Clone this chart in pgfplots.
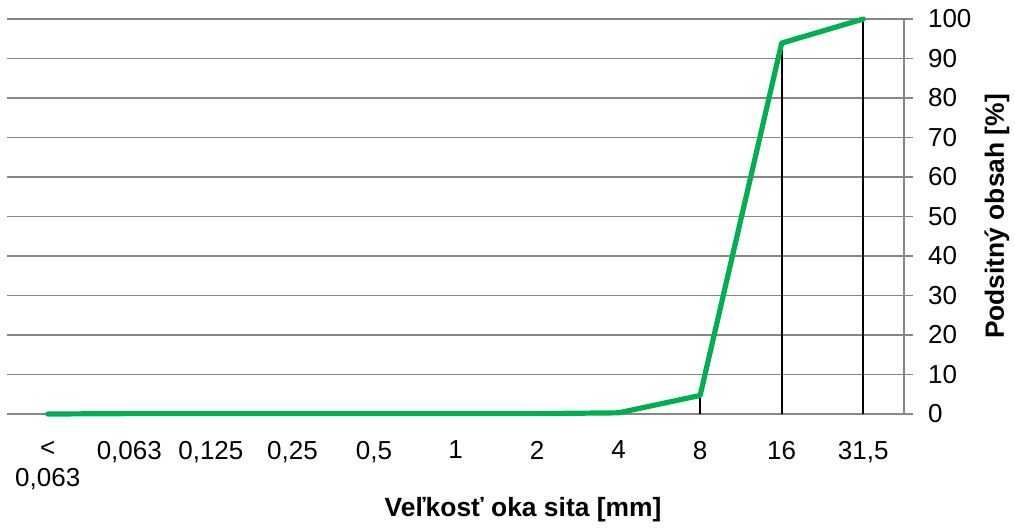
\documentclass[border=0pt]{standalone}
\usepackage{pgfplots}
\pgfplotsset{compat=1.18}
\usepackage{fontspec}
\setmainfont{Liberation Sans}
\definecolor{exgreen}{RGB}{0,176,80}
\definecolor{gridgray}{RGB}{134,134,134}
\begin{document}
\begin{tikzpicture}
\useasboundingbox (-3.5pt,-56.5pt) rectangle (504pt,207pt);
\begin{axis}[
  at={(0pt,0pt)}, anchor=south west,
  scale only axis, width=448.5pt, height=197.5pt,
  xmin=-0.5, xmax=10.5, ymin=0, ymax=100,
  axis y line*=right, axis x line*=bottom,
  x axis line style={draw=none},
  y axis line style={draw=gridgray, line width=0.8pt},
  xtick={0,...,10},
  xticklabels={{<\\0,063},{0,063},{0,125},{0,25},{0,5},{1},{2},{4},{8},{16},{31,5}},
  xtick style={draw=none},
  xticklabel style={align=center, anchor=north, yshift=-5.5pt, font=\fontsize{13}{15}\selectfont},
  ytick={0,10,...,100},
  ytick style={draw=gridgray, line width=0.8pt},
  tick align=outside, major tick length=4.5pt,
  yticklabel style={anchor=west, xshift=4pt, font=\fontsize{13}{15}\selectfont},
  /pgf/number format/assume math mode=true,
  ymajorgrids, grid style={gridgray, line width=0.8pt},
  xlabel={Veľkosť oka sita [mm]},
  xlabel style={at={(axis description cs:0.5753,0)}, anchor=center, yshift=-48pt, font=\bfseries\fontsize{13.2}{15}\selectfont},
  ylabel={Podsitný obsah [\%]},
  ylabel style={at={(axis description cs:1.1037,0.5)}, anchor=center, font=\bfseries\fontsize{13.2}{15}\selectfont},
  clip=false,
]
\addplot[ycomb, black, line width=0.9pt, mark=none] coordinates {
 (0,0) (1,0.1) (2,0.1) (3,0.1) (4,0.1) (5,0.1) (6,0.1) (7,0.3) (8,4.7) (9,93.9) (10,100)};
\addplot[exgreen, line width=2.6pt, mark=none, line join=round, line cap=round] coordinates {
 (0,0) (1,0.1) (2,0.1) (3,0.1) (4,0.1) (5,0.1) (6,0.1) (7,0.3) (8,4.7) (9,93.9) (10,100)};
\end{axis}
\end{tikzpicture}
\end{document}
